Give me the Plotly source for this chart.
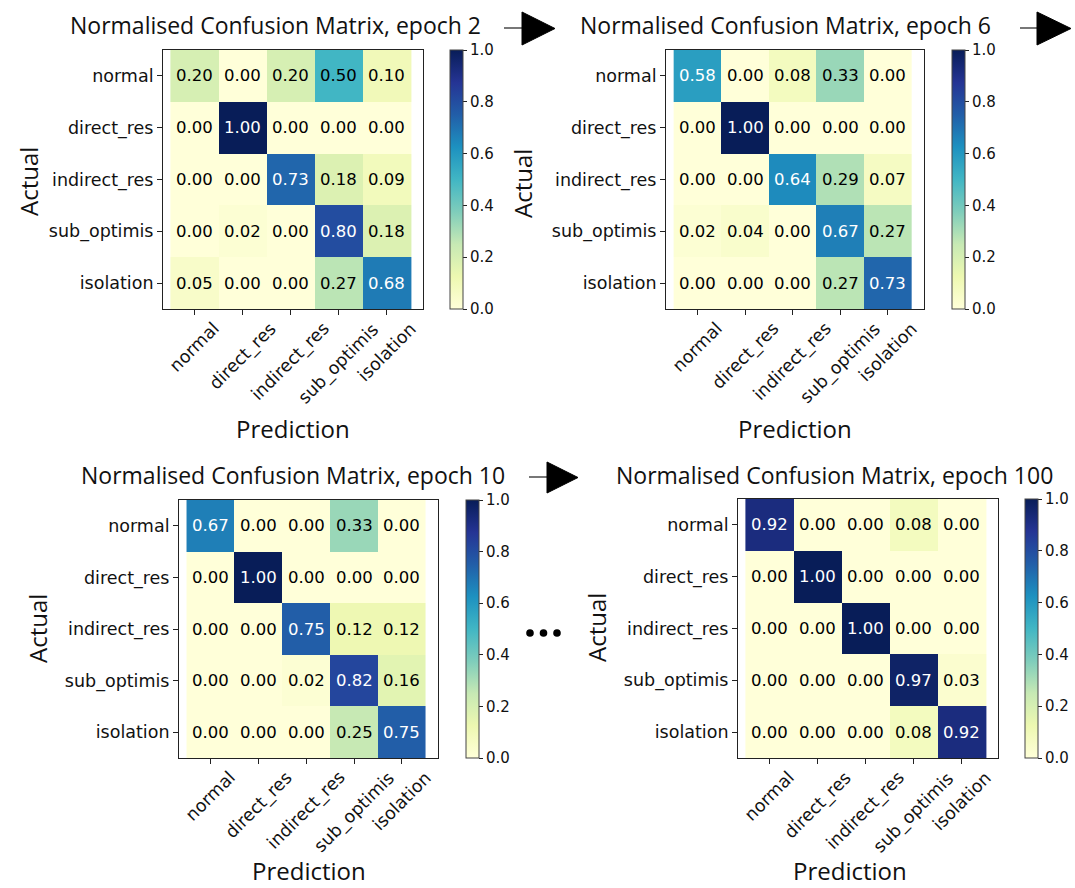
import plotly.graph_objects as go

W, H = 1075, 888

labels = ["normal", "direct_res", "indirect_res", "sub_optimis", "isolation"]

cm_epoch2 = [
    [0.20, 0.00, 0.20, 0.50, 0.10],
    [0.00, 1.00, 0.00, 0.00, 0.00],
    [0.00, 0.00, 0.73, 0.18, 0.09],
    [0.00, 0.02, 0.00, 0.80, 0.18],
    [0.05, 0.00, 0.00, 0.27, 0.68],
]
cm_epoch6 = [
    [0.58, 0.00, 0.08, 0.33, 0.00],
    [0.00, 1.00, 0.00, 0.00, 0.00],
    [0.00, 0.00, 0.64, 0.29, 0.07],
    [0.02, 0.04, 0.00, 0.67, 0.27],
    [0.00, 0.00, 0.00, 0.27, 0.73],
]
cm_epoch10 = [
    [0.67, 0.00, 0.00, 0.33, 0.00],
    [0.00, 1.00, 0.00, 0.00, 0.00],
    [0.00, 0.00, 0.75, 0.12, 0.12],
    [0.00, 0.00, 0.02, 0.82, 0.16],
    [0.00, 0.00, 0.00, 0.25, 0.75],
]
cm_epoch100 = [
    [0.92, 0.00, 0.00, 0.08, 0.00],
    [0.00, 1.00, 0.00, 0.00, 0.00],
    [0.00, 0.00, 1.00, 0.00, 0.00],
    [0.00, 0.00, 0.00, 0.97, 0.03],
    [0.00, 0.00, 0.00, 0.08, 0.92],
]
epochs = [2, 6, 10, 100]
matrices = [cm_epoch2, cm_epoch6, cm_epoch10, cm_epoch100]
cbar_ticks = [0.0, 0.2, 0.4, 0.6, 0.8, 1.0]

# matplotlib-style YlGnBu
ylgnbu = ["#ffffd9", "#edf8b1", "#c7e9b4", "#7fcdbb", "#41b6c4",
          "#1d91c0", "#225ea8", "#253494", "#081d58"]
colorscale = [[i / (len(ylgnbu) - 1), c] for i, c in enumerate(ylgnbu)]

# pixel layout of each panel: heatmap box, colorbar left, title, axis titles
panels = [
    dict(box=(163, 423, 50, 309), cb=450, title=(275, 25), ylab=(28, 182), xlab=293),
    dict(box=(666, 924, 50, 309), cb=952, title=(785, 25), ylab=(522, 184), xlab=795),
    dict(box=(179, 438, 500, 758), cb=466, title=(293, 475), ylab=(37, 629), xlab=309),
    dict(box=(738, 998, 499, 758), cb=1025, title=(834, 475), ylab=(596, 628), xlab=850),
]
xlab_y = [446, 446, 888, 888]  # bottom edge of the "Prediction" label boxes

TXT = "Open Sans"
NUM = "DejaVu Sans"

def px(x):
    return x / W

def py(y):
    return 1 - y / H

fig = go.Figure()
annotations = []
layout_axes = {}

for i, (ep, cm, p) in enumerate(zip(epochs, matrices, panels), start=1):
    x0, x1, y0, y1 = p["box"]
    xa = "x" if i == 1 else f"x{i}"
    ya = "y" if i == 1 else f"y{i}"
    fig.add_trace(go.Heatmap(
        z=cm, x=labels, y=labels, xaxis=xa, yaxis=ya,
        zmin=0, zmax=1, colorscale=colorscale, hoverinfo="skip",
        colorbar=dict(
            x=px(p["cb"]), xanchor="left", y=py(y0), yanchor="top",
            len=(y1 - y0) / H, lenmode="fraction", thickness=13,
            xpad=0, ypad=0, outlinewidth=1, outlinecolor="#444",
            tickvals=cbar_ticks, ticktext=[f"{t:.1f}" for t in cbar_ticks],
            ticks="outside", ticklen=4, tickcolor="#222",
            tickfont=dict(family=NUM, size=15, color="#111"),
        ),
    ))
    axis_common = dict(
        showline=True, mirror=True, linecolor="#222", linewidth=1,
        ticks="outside", ticklen=5, tickcolor="#222", showgrid=False,
        zeroline=False, fixedrange=True,
        tickfont=dict(family=NUM, size=17.5, color="#111"),
    )
    layout_axes["xaxis" if i == 1 else f"xaxis{i}"] = dict(
        axis_common, domain=[px(x0), px(x1)], anchor=ya, showticklabels=False,
    )
    layout_axes["yaxis" if i == 1 else f"yaxis{i}"] = dict(
        axis_common, domain=[py(y1), py(y0)], anchor=xa, autorange="reversed",
    )
    # rotated category labels, centred under each tick
    for lab in labels:
        annotations.append(dict(
            x=lab, y=0, xref=xa, yref=f"{ya} domain", text=lab, textangle=-45,
            showarrow=False, xanchor="center", yanchor="top", yshift=-7,
            font=dict(family=NUM, size=17.5, color="#111"),
        ))
    # cell values
    for r, row in enumerate(cm):
        for c, v in enumerate(row):
            annotations.append(dict(
                x=labels[c], y=labels[r], xref=xa, yref=ya, text=f"{v:.2f}",
                showarrow=False,
                font=dict(family=NUM, size=16.5, color="white" if v > 0.5 else "black"),
            ))
    tx, ty = p["title"]
    annotations.append(dict(
        x=px(tx), y=py(ty), xref="paper", yref="paper", showarrow=False,
        text=f"Normalised Confusion Matrix, epoch {ep}",
        font=dict(family=TXT, size=23, color="#111"),
        xanchor="center", yanchor="middle",
    ))
    lx, ly = p["ylab"]
    annotations.append(dict(
        x=px(lx), y=py(ly), xref="paper", yref="paper", showarrow=False,
        text="Actual", textangle=-90,
        font=dict(family=TXT, size=24, color="#111"),
        xanchor="center", yanchor="middle",
    ))
    annotations.append(dict(
        x=px(p["xlab"]), y=py(xlab_y[i - 1]), xref="paper", yref="paper",
        showarrow=False, text="Prediction", borderpad=0,
        font=dict(family=TXT, size=24, color="#111"),
        xanchor="center", yanchor="bottom",
    ))

# progression arrows between panels and the ellipsis
shapes = []
arrows = [
    dict(line=(504, 522, 28), tri=(522, 555, 12, 45)),
    dict(line=(1020, 1037, 28), tri=(1037, 1071, 12, 45)),
    dict(line=(529, 547, 477), tri=(547, 578, 462, 493)),
]
for a in arrows:
    lx0, lx1, ly = a["line"]
    shapes.append(dict(type="line", xref="paper", yref="paper",
                       x0=px(lx0), x1=px(lx1), y0=py(ly), y1=py(ly),
                       line=dict(color="#777", width=2)))
    tx0, tx1, ty0, ty1 = a["tri"]
    ym = (ty0 + ty1) / 2
    shapes.append(dict(type="path", xref="paper", yref="paper",
                       path=f"M {px(tx0)},{py(ty0)} L {px(tx1)},{py(ym)} L {px(tx0)},{py(ty1)} Z",
                       fillcolor="black", line=dict(color="black", width=1)))
for dx in (530, 543.5, 557):
    r = 3.8
    shapes.append(dict(type="circle", xref="paper", yref="paper",
                       x0=px(dx - r), x1=px(dx + r), y0=py(633 + r), y1=py(633 - r),
                       fillcolor="black", line=dict(color="black", width=0)))

fig.update_layout(
    width=W, height=H, margin=dict(l=0, r=0, t=0, b=0, autoexpand=False),
    paper_bgcolor="white", plot_bgcolor="white",
    annotations=annotations, shapes=shapes, **layout_axes,
)

fig.write_html("out.html")
